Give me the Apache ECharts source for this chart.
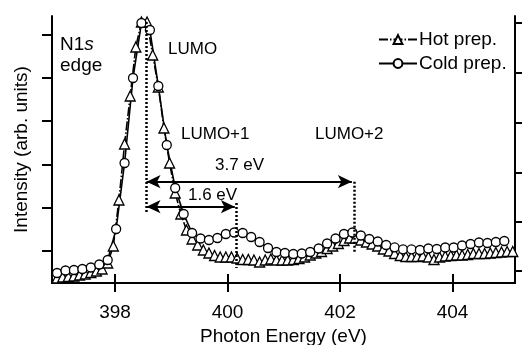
<!DOCTYPE html>
<html><head><meta charset="utf-8">
<script src="https://cdn.jsdelivr.net/npm/echarts@6/dist/echarts.min.js"></script>
<style>html,body{margin:0;padding:0;background:#fff}#c{width:522px;height:345px}</style>
</head><body><div id="c"></div>
<script>
// Photon energy grids (eV)
const hotStart = 396.97, hotStep = 0.1;
const coldStart = 396.97, coldStep = 0.15;
// Intensities (arb. units)
const hotValues = [5,6,6.5,7,8,9,10.5,12,14,20,37,83,139,187,236,261,261,228,196,155,120,90,69,53,44,38,33,30,27.5,26,26,26,25,23.5,23.5,23,21,23,24,23,23,23,23.5,24.5,26,28,30,31.5,34.5,37,39.5,42.5,45,45,43,41,39,37,34,32,29.5,27.5,26.5,26.5,26.5,27,26,23.5,26,27,27.5,28,28,28.5,29.5,29.5,29.5,30,30.5,31,31.5,31.5];
const coldValues = [10,12.5,13,14,15.5,18.5,23,54,120,205,260,253,197,138,95,69,50,44.5,43,45,49,50.5,50,46,41,35,31,30,29,29.5,31,34.5,39.5,44.5,49,50.5,47.5,44,41.5,38,35.7,33.7,33.7,33,34.5,34,35.5,35.5,37.5,39,40.5,40,41,42];
const xTicks = [398,400,402,404];
const leftTicks = [32,75.3,118.7,162,205.3,248.7];
const rightTicks = [12,61.5,110.5,160.5,210.5,260];
// Peak positions and separations
const lumo = 398.56, lumo1 = 400.16, lumo2 = 402.26;

const hotData = hotValues.map((v,i)=>[+(hotStart+i*hotStep).toFixed(3), v]);
const coldData = coldValues.map((v,i)=>[+(coldStart+i*coldStep).toFixed(3), v]);

const FONT = 'Liberation Sans, Arial, Helvetica, sans-serif';
const axisLineStyle = {color:'#000', width:2};
const chart = echarts.init(document.getElementById('c'), null, {renderer:'canvas'});
const dotted = {type:[2,2], color:'#000', width:2.5};
chart.setOption({
  animation:false,
  backgroundColor:'#fff',
  grid:{left:52, right:7, top:16, bottom:62, containLabel:false, outerBoundsMode:'none'},
  textStyle:{fontFamily:FONT},
  legend:{
    data:['Hot prep.','Cold prep.'], orient:'vertical', left:378, top:30,
    itemWidth:38, itemHeight:11, itemGap:5, padding:0,
    textStyle:{fontSize:19, color:'#000', fontFamily:FONT, lineHeight:19, padding:[0,0,0,-3]}
  },
  xAxis:[{
    type:'value', min:396.88, max:405.11, position:'bottom',
    name:'Photon Energy (eV)', nameLocation:'middle', nameGap:42,
    nameTextStyle:{fontSize:19, color:'#000', fontFamily:FONT},
    axisLine:{lineStyle:axisLineStyle},
    axisTick:{show:true, inside:false, length:9, lineStyle:axisLineStyle, customValues:xTicks},
    axisLabel:{fontSize:19, color:'#000', margin:20, fontFamily:FONT, customValues:xTicks},
    splitLine:{show:false}
  },{
    type:'value', min:396.88, max:405.11, position:'top',
    axisLine:{lineStyle:axisLineStyle},
    axisTick:{show:true, inside:false, length:9, lineStyle:axisLineStyle, customValues:xTicks},
    axisLabel:{show:false}, splitLine:{show:false}
  }],
  yAxis:[{
    type:'value', min:0, max:267, position:'left',
    name:'Intensity (arb. units)', nameLocation:'middle', nameGap:21, nameRotate:90,
    nameTextStyle:{fontSize:19, color:'#000', fontFamily:FONT},
    axisLine:{show:true, lineStyle:axisLineStyle},
    axisTick:{show:true, inside:false, length:10, lineStyle:axisLineStyle, customValues:leftTicks},
    axisLabel:{show:false}, splitLine:{show:false}
  },{
    type:'value', min:0, max:267, position:'right',
    axisLine:{show:true, lineStyle:axisLineStyle},
    axisTick:{show:true, inside:false, length:9, lineStyle:axisLineStyle, customValues:rightTicks},
    axisLabel:{show:false}, splitLine:{show:false}
  }],
  series:[{
    name:'Hot prep.', type:'line', data:hotData, symbol:'triangle', symbolSize:10,
    showAllSymbol:true,
    lineStyle:{color:'#000', width:1.6, type:[9,2,1.5,2]},
    itemStyle:{color:'#fff', borderColor:'#000', borderWidth:1.3},
    markLine:{
      silent:true, symbol:'none', label:{show:false},
      data:[
        [{coord:[lumo,261], lineStyle:dotted},{coord:[lumo,71]}],
        [{coord:[lumo1,80], lineStyle:dotted},{coord:[lumo1,15]}],
        [{coord:[lumo2,101.3], lineStyle:dotted},{coord:[lumo2,31]}]
      ]
    }
  },{
    name:'Cold prep.', type:'line', data:coldData, symbol:'circle', symbolSize:9,
    showAllSymbol:true,
    lineStyle:{color:'#000', width:1.6},
    itemStyle:{color:'#fff', borderColor:'#000', borderWidth:1.3},
    markLine:{
      silent:true, symbol:['arrow','arrow'], symbolSize:[10,14], label:{show:false},
      lineStyle:{color:'#000', width:2, type:'solid'},
      data:[
        [{coord:[lumo,101.3]},{coord:[lumo2-0.05,101.3]}],
        [{coord:[lumo,76.3]},{coord:[lumo1-0.03,76.3]}]
      ]
    }
  }],
  graphic:[
    {type:'text', left:60, top:35, style:{rich:{a:{fontSize:19,fontFamily:FONT,fill:'#000'},b:{fontSize:19,fontFamily:FONT,fontStyle:'italic',fill:'#000'}}, text:'{a|N1}{b|s}', fill:'#000'}},
    {type:'text', left:60, top:56, style:{text:'edge', fontSize:19, fontFamily:FONT, fill:'#000'}},
    {type:'text', left:168, top:41, style:{text:'LUMO', fontSize:17, fontFamily:FONT, fill:'#000'}},
    {type:'text', left:181, top:126, style:{text:'LUMO+1', fontSize:17, fontFamily:FONT, fill:'#000'}},
    {type:'text', left:315, top:126, style:{text:'LUMO+2', fontSize:17, fontFamily:FONT, fill:'#000'}},
    {type:'text', left:215, top:157, style:{text:'3.7 eV', fontSize:17, fontFamily:FONT, fill:'#000'}},
    {type:'text', left:188, top:187, style:{text:'1.6 eV', fontSize:17, fontFamily:FONT, fill:'#000'}}
  ]
});
</script></body></html>
